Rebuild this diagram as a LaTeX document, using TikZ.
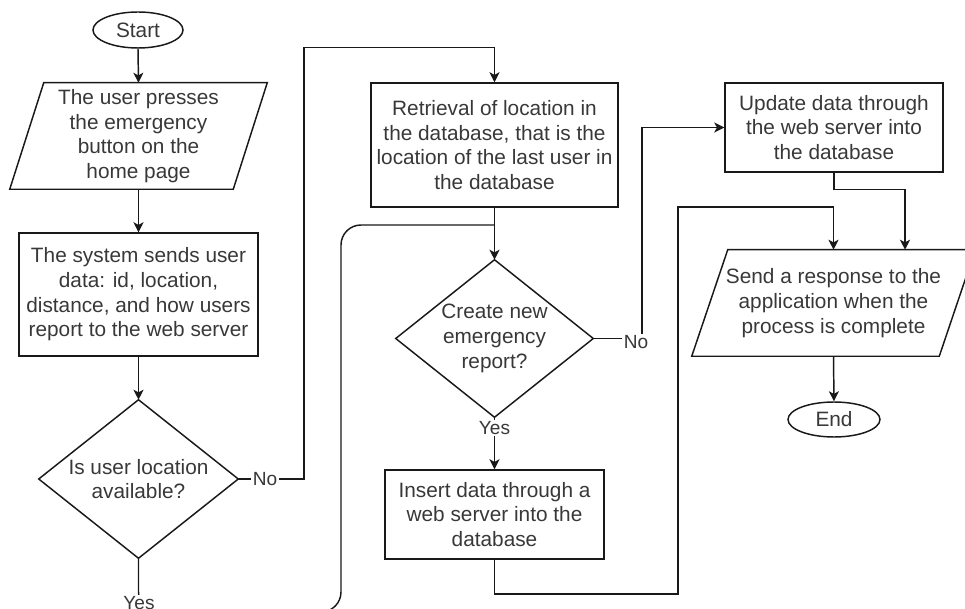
\documentclass[tikz,border=0pt]{standalone}
\usepackage{fontspec}
\setmainfont{Liberation Sans}
\usetikzlibrary{shapes.geometric,arrows.meta,calc}
\begin{document}
\begin{tikzpicture}[x=0.75pt,y=-0.75pt,
  font=\fontsize{15.6pt}{18.5pt}\selectfont,
  txt/.style={text=black!78, align=center, inner sep=0pt},
  sized/.style 2 args={minimum width=#1*0.75pt, minimum height=#2*0.75pt},
  outline/.style={draw=black!90, line width=1.1pt, line join=miter},
  procbox/.style={txt, outline},
  terminal/.style={txt, outline, ellipse},
  link/.style={draw=black!90, line width=1.1pt},
  flow/.style={link, -{Stealth[length=7.5pt,width=7.5pt,inset=2pt]}},
  lbl/.style={font=\fontsize{14.3pt}{16pt}\selectfont, text=black!78, fill=white, inner sep=1pt},
]
\clip (0,0) rectangle (965,609);

% ---- left column ----
\node[terminal, sized={90}{36}] (start) at (138,30) {Start};

\node[txt, sized={257}{106}] (press) at (138.5,136)
  {The user presses\\the emergency\\button on the\\home page};
\draw[outline] ($(press.north west)+(34,0)$) -- (press.north east)
  -- ($(press.south east)+(-34,0)$) -- (press.south west) -- cycle;

\node[procbox, sized={239}{123}] (sysdata) at (138.5,294.5)
  {The system sends user\\data: id, location,\\distance, and how users\\report to the web server};

\node[txt, sized={199}{158}] (avail) at (138.5,479)
  {Is user location\\available?};
\draw[outline] (avail.north) -- (avail.east) -- (avail.south) -- (avail.west) -- cycle;

% ---- middle column ----
\node[procbox, sized={247}{124}] (retr) at (494.5,145)
  {Retrieval of location in\\the database, that is the\\location of the last user in\\the database};

\node[txt, sized={197}{157}] (create) at (494.5,338.5)
  {Create new\\emergency\\report?};
\draw[outline] (create.north) -- (create.east) -- (create.south) -- (create.west) -- cycle;

\node[procbox, sized={219}{89}] (insert) at (494.5,514.5)
  {Insert data through a\\web server into the\\database};

% ---- right column ----
\node[procbox, sized={218}{89}] (upd) at (834,127.5)
  {Update data through\\the web server into\\the database};

\node[txt, sized={283}{106}] (reply) at (833.5,303)
  {Send a response to the\\application when the\\process is complete};
\draw[outline] ($(reply.north west)+(36,0)$) -- (reply.north east)
  -- ($(reply.south east)+(-36,0)$) -- (reply.south west) -- cycle;

\node[terminal, sized={92}{35}] (finish) at (834,419.5) {End};

% ---- connectors ----
\draw[flow] (start.south) -- (press.north);
\draw[flow] (press.south) -- (sysdata.north);
\draw[flow] (sysdata.south) -- (avail.north);

\draw[flow] (avail.east) -- (304,479) |- ($(retr.north)+(0,-35)$) -- (retr.north);
\node[lbl] (no1) at (265,479) {No};

\draw[link, rounded corners=15] (avail.south) -- (138.5,612) -- (341,612)
  -- (341,225) -- (494.5,225);
\node[lbl] (yes1) at (139,603) {Yes};

\draw[flow] (retr.south) -- (create.north);

\draw[flow] (create.south) -- (insert.north);
\node[lbl] (yes2) at (494.5,428) {Yes};

\draw[flow] (create.east) -- (642,338.5) |- (upd.west);
\node[lbl] (no2) at (636,342) {No};

\draw[flow] (insert.south) |- (678,594) -- (678,207) -| (reply.north);
\draw[flow] (upd.south) -- ++(0,17) -| ($(reply.north)+(71.5,0)$);

\draw[flow] (reply.south) -- (finish.north);
\end{tikzpicture}
\end{document}
